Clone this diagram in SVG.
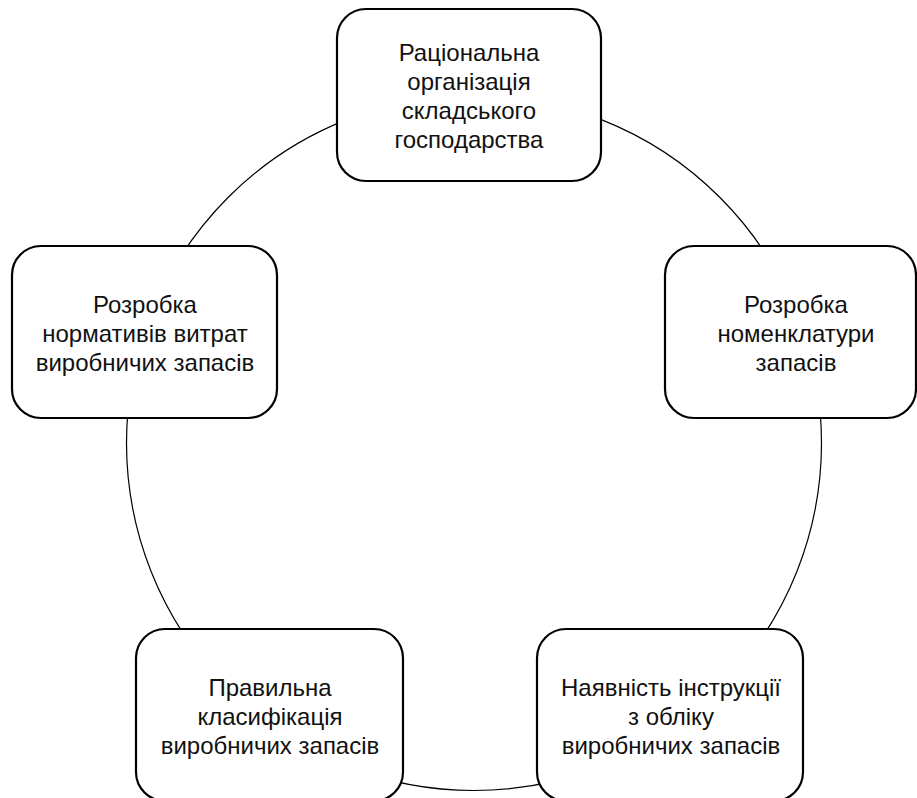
<svg xmlns="http://www.w3.org/2000/svg" width="917" height="798" viewBox="0 0 917 798">
<style>
.box{fill:#fff;stroke:#000;stroke-width:2.2}
.ring{fill:none;stroke:#000;stroke-width:1.2}
text{font-family:"Liberation Sans",Arial,sans-serif;font-size:24px;fill:#111;text-anchor:middle}
</style>
<rect width="917" height="798" fill="#fff"/>
<g id="connectors">
<circle class="ring" cx="474" cy="443" r="347.5"/>
</g>
<g id="n1">
<rect class="box" x="337" y="9" width="264" height="172" rx="29"/>
<text x="469" y="61">Раціональна</text>
<text x="469" y="90">організація</text>
<text x="469" y="119">складського</text>
<text x="469" y="148">господарства</text>
</g>
<g id="n2">
<rect class="box" x="665" y="246" width="251" height="172" rx="29"/>
<text x="796" y="313">Розробка</text>
<text x="796" y="342">номенклатури</text>
<text x="796" y="371">запасів</text>
</g>
<g id="n3">
<rect class="box" x="537" y="629" width="266" height="172" rx="29"/>
<text x="671" y="696">Наявність інструкції</text>
<text x="671" y="725">з обліку</text>
<text x="671" y="754">виробничих запасів</text>
</g>
<g id="n4">
<rect class="box" x="136" y="629" width="267" height="172" rx="29"/>
<text x="270" y="696">Правильна</text>
<text x="270" y="725">класифікація</text>
<text x="270" y="754">виробничих запасів</text>
</g>
<g id="n5">
<rect class="box" x="12" y="246" width="265" height="172" rx="29"/>
<text x="145" y="313">Розробка</text>
<text x="145" y="342">нормативів витрат</text>
<text x="145" y="371">виробничих запасів</text>
</g>
</svg>
